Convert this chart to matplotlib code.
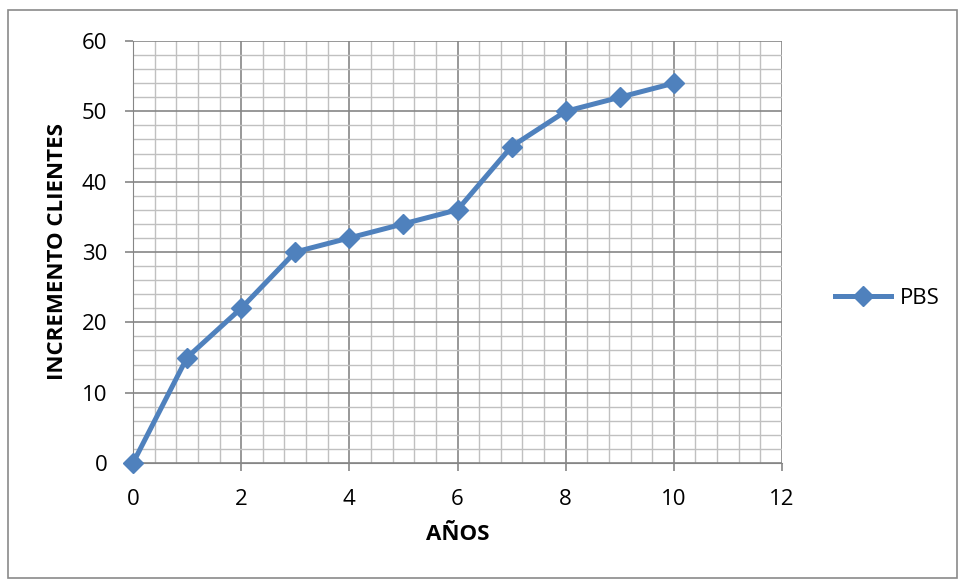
import matplotlib
matplotlib.use("Agg")
import matplotlib.pyplot as plt
from matplotlib.patches import Rectangle
from matplotlib.ticker import MultipleLocator

years = [0, 1, 2, 3, 4, 5, 6, 7, 8, 9, 10]
clients = [0, 15, 22, 30, 32, 34, 36, 45, 50, 52, 54]
series_name = "PBS"

plt.rcParams['font.family'] = ['Open Sans', 'DejaVu Sans']

W, H = 963, 585
fig = plt.figure(figsize=(W / 100, H / 100), dpi=100)
ax = fig.add_axes([133 / W, 1 - 463 / H, (782 - 133) / W, (463 - 41) / H])

# outer chart frame
fig.patches.append(Rectangle((8 / W, 1 - 578 / H), 949 / W, 568 / H,
                             transform=fig.transFigure, fill=False,
                             ec='#8a8a8a', lw=1.2))

ax.plot(years, clients, color='#4F81BD', lw=3.6, marker='D', ms=10,
        mec='#4F81BD', mfc='#4F81BD', label=series_name, clip_on=False, zorder=5)

ax.set_xlim(0, 12)
ax.set_ylim(0, 60)
ax.xaxis.set_major_locator(MultipleLocator(2))
ax.xaxis.set_minor_locator(MultipleLocator(0.4))
ax.yaxis.set_major_locator(MultipleLocator(10))
ax.yaxis.set_minor_locator(MultipleLocator(2))

ax.grid(which='major', color='#868686', lw=1.2)
ax.grid(which='minor', color='#c0c0c0', lw=1)
ax.set_axisbelow(True)

for s in ['top', 'right']:
    ax.spines[s].set_visible(False)
ax.spines['left'].set_color('#868686')
ax.spines['bottom'].set_color('#868686')
ax.tick_params(which='major', direction='out', length=5.5, width=1.2,
               color='#868686', labelsize=16, pad=13)
ax.tick_params(which='minor', length=0)

ax.set_xlabel('AÑOS', fontsize=16, fontweight='bold', labelpad=10)
ax.set_ylabel('INCREMENTO CLIENTES', fontsize=16, fontweight='bold', labelpad=10)

leg = ax.legend(loc='center left', bbox_to_anchor=(835 / W, 1 - 298 / H),
                bbox_transform=fig.transFigure, frameon=False, fontsize=16,
                handlelength=2.5, handletextpad=0.4, borderpad=0, borderaxespad=0)

fig.savefig('out.png', dpi=100)
